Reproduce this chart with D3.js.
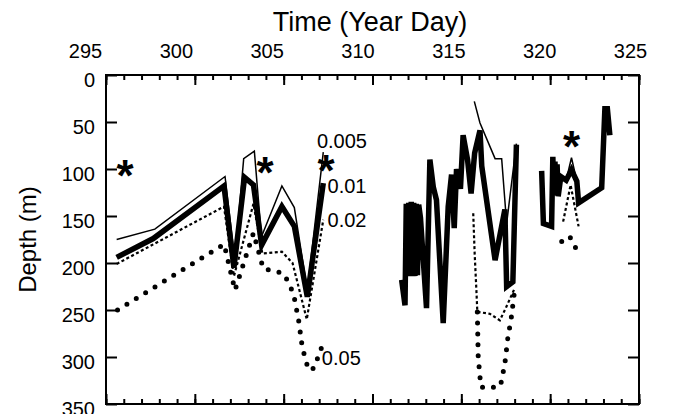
<!DOCTYPE html>
<html>
<head>
<meta charset="utf-8">
<script src="https://cdn.jsdelivr.net/npm/d3@7"></script>
<style>
  body { margin: 0; background: #fff; }
  svg { display: block; font-family: 'Liberation Sans', Arial, sans-serif; }
  .curve { fill: none; stroke: #000; }
  .axis path.domain { display: none; }
  .axis line { stroke: #000; stroke-width: 2; }
</style>
</head>
<body>
<svg id="chart" width="674" height="414"></svg>
<script>
// isopycnal depth records, [year day, depth m], null = gap in record
const dayTicks = [295, 300, 305, 310, 315, 320, 325];
const depthTicks = [0, 50, 100, 150, 200, 250, 300, 350];

const s005 = [
    [295.6, 175], [297.75, 164], [301.7, 108], [302.25, 197], [302.75, 89], [303.35, 81],
    [303.75, 172], [304.9, 118], [305.6, 141], [306.33, 229], [307.23, 82],
    null,
    [315.73, 28], [316.05, 51], [316.9, 89], [317.27, 89], [317.55, 158], [318.1, 73],
    null,
    [320.65, 108], [320.9, 112], [321.2, 88], [321.5, 113], [321.6, 136]
];
const s01 = [
    [295.6, 194], [297.66, 174], [301.64, 118], [302.2, 205], [302.8, 109], [303.3, 117],
    [303.76, 181], [304.9, 140], [305.6, 161], [306.33, 236], [307.23, 115],
    null,
    [311.64, 218], [311.83, 245], [311.9, 137], [311.97, 212], [312.04, 136], [312.11, 214],
    [312.18, 135], [312.25, 212], [312.32, 136], [312.39, 214], [312.46, 137], [312.53, 213],
    [312.6, 138], [312.7, 152], [313.04, 248], [313.23, 90],
    [313.42, 119], [313.6, 133], [313.98, 264], [314.26, 140], [314.45, 106], [314.6, 163],
    [314.73, 100], [314.95, 121], [315.1, 64], [315.35, 90], [315.55, 126], [315.75, 83],
    [316.05, 59], [316.15, 97], [316.9, 197], [317.45, 143], [317.55, 225], [317.9, 220],
    [318.1, 74],
    null,
    [319.52, 102], [319.62, 158], [320.08, 161], [320.15, 87], [320.21, 126], [320.27, 92],
    [320.33, 128], [320.39, 95], [320.45, 129], [320.6, 108], [320.9, 112], [321.2, 101],
    [321.5, 113], [321.6, 136], [322.9, 120], [323.08, 36], [323.22, 36], [323.36, 64]
];
const s02 = [
    [295.6, 201], [301.64, 140], [302.2, 214], [303.3, 137], [303.8, 190], [304.9, 188],
    [305.5, 200], [306.3, 260], [307.23, 154],
    null,
    [315.67, 147], [315.75, 190], [315.85, 230], [315.9, 252], [316.6, 254], [317.17, 261],
    [317.5, 248], [318.0, 227],
    null,
    [320.73, 156], [321.15, 117], [321.6, 161]
];
const s05 = [
    [295.65, 250], [301.65, 180], [302.26, 229], [303.3, 168], [303.85, 206], [304.97, 211],
    [305.35, 223], [305.6, 237], [305.85, 262], [306.05, 290], [306.4, 314], [306.7, 312],
    [307.23, 285],
    null,
    [315.9, 252], [315.95, 300], [316.1, 332], [316.5, 333], [317.2, 331], [317.45, 307],
    [317.63, 278], [317.8, 260], [318.0, 229],
    null,
    [320.65, 177], [320.8, 177], [321.1, 172], [321.3, 178], [321.55, 189]
];
const stars = [[296.07, 97], [303.95, 94], [307.38, 91], [321.2, 66]];
const curveLabels = ['0.005', '0.01', '0.02', '0.05'];
const labelAt = [[306.87, 78], [307.47, 126], [307.47, 162], [307.15, 308]];

const svg = d3.select('#chart');
const x = d3.scaleLinear().domain([295, 325]).range([106, 639]);
const y = d3.scaleLinear().domain([0, 350]).range([75, 404]);
// the printed day labels sit a little off their ticks
const xLabel = d3.scaleLinear().domain([295, 325]).range([85, 630]);
const minorDays = d3.range(295, 326);

// axes: all ticks point into the plot
function ticksX(yPos, gen, values, size) {
    svg.append('g').attr('class', 'axis')
        .attr('transform', 'translate(0,' + yPos + ')')
        .call(gen(x).tickValues(values).tickSize(size).tickFormat(''));
}
ticksX(y(0), d3.axisBottom, minorDays, 5);
ticksX(y(0), d3.axisBottom, dayTicks, 10);
ticksX(y(350), d3.axisTop, minorDays, 5);
ticksX(y(350), d3.axisTop, dayTicks, 10);

svg.append('g').attr('class', 'axis')
    .attr('transform', 'translate(' + x(295) + ',0)')
    .call(d3.axisRight(y).tickValues(depthTicks).tickSize(11).tickFormat(''));
svg.append('g').attr('class', 'axis')
    .attr('transform', 'translate(' + x(325) + ',0)')
    .call(d3.axisLeft(y).tickValues(depthTicks).tickSize(11).tickFormat(''));

// tick labels
svg.append('g').attr('class', 'axis')
    .attr('transform', 'translate(0,' + y(0) + ')')
    .call(d3.axisTop(xLabel).tickValues(dayTicks).tickSize(0).tickPadding(17))
    .selectAll('text').style('font-size', '20px').style('font-family', 'inherit').attr('fill', '#000');
svg.append('g').attr('class', 'axis')
    .attr('transform', 'translate(' + x(295) + ',0)')
    .call(d3.axisLeft(y).tickValues(depthTicks).tickSize(0).tickPadding(11))
    .selectAll('text').attr('dy', '0.55em').style('font-size', '20px').style('font-family', 'inherit').attr('fill', '#000');

svg.append('rect')
    .attr('x', x(295)).attr('y', y(0))
    .attr('width', x(325) - x(295)).attr('height', y(350) - y(0))
    .attr('fill', 'none').attr('stroke', '#000').attr('stroke-width', 2);

// titles
svg.append('text')
    .attr('x', 370).attr('y', 31)
    .attr('text-anchor', 'middle').style('font-size', '27px')
    .text('Time (Year Day)');
svg.append('text')
    .attr('transform', 'translate(36,' + (y(0) + y(350)) / 2 + ') rotate(-90)')
    .attr('text-anchor', 'middle').style('font-size', '24px')
    .text('Depth (m)');

// curves
const line = d3.line()
    .defined(d => d !== null)
    .x(d => x(d[0]))
    .y(d => y(d[1]));

const styles = [
    { data: s05, width: 5, dash: '0,11', cap: 'round' },
    { data: s02, width: 2.2, dash: '3,2.5', cap: 'butt' },
    { data: s01, width: 5.5, dash: null, cap: 'butt' },
    { data: s005, width: 1.5, dash: null, cap: 'butt' },
];
styles.forEach(s => {
    svg.append('path')
        .datum(s.data)
        .attr('class', 'curve')
        .attr('d', line)
        .attr('stroke-width', s.width)
        .attr('stroke-dasharray', s.dash)
        .attr('stroke-linecap', s.cap)
        .attr('stroke-linejoin', 'miter');
});

// curve labels
svg.selectAll('text.clabel')
    .data(curveLabels)
    .enter().append('text')
    .attr('class', 'clabel')
    .attr('x', (d, i) => x(labelAt[i][0]))
    .attr('y', (d, i) => y(labelAt[i][1]))
    .style('font-size', '20px')
    .text(d => d);

// asterisks
svg.selectAll('text.star')
    .data(stars)
    .enter().append('text')
    .attr('class', 'star')
    .attr('x', d => x(d[0]))
    .attr('y', d => y(d[1]))
    .attr('dy', 25)
    .attr('text-anchor', 'middle')
    .style('font-size', '44px')
    .style('font-weight', 'bold')
    .text('*');
</script>
</body>
</html>
